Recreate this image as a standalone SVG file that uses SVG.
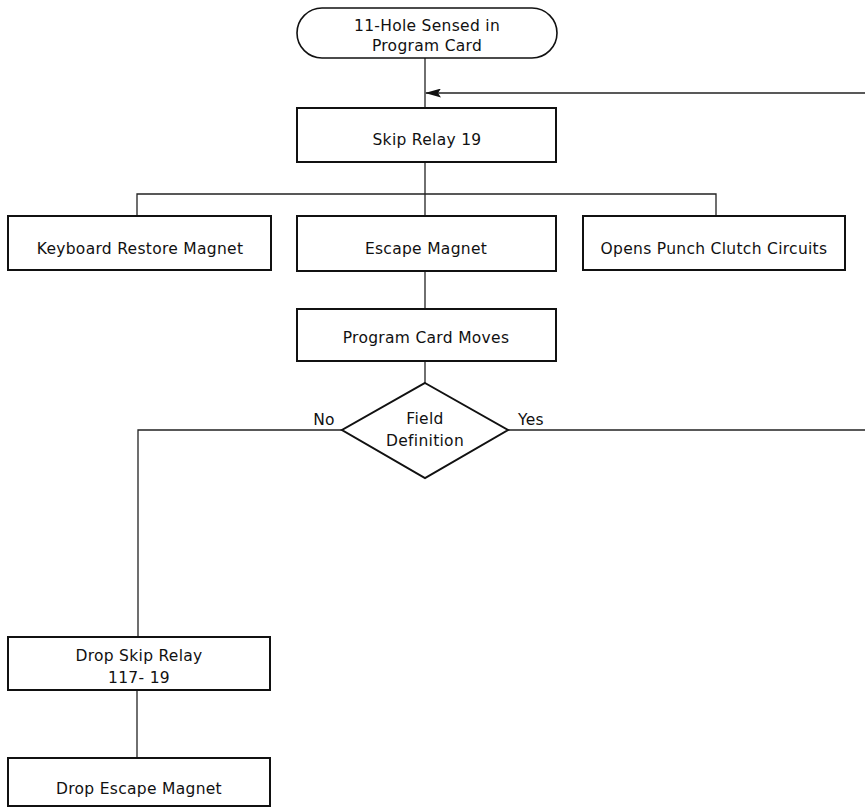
<svg xmlns="http://www.w3.org/2000/svg" width="865" height="810" viewBox="0 0 865 810">
<style>
.box{fill:#fff;stroke:#111;stroke-width:2}
.term{fill:#fff;stroke:#111;stroke-width:1.6}
.ln{fill:none;stroke:#222;stroke-width:1.3}
text{font-family:"DejaVu Sans","Liberation Sans",sans-serif;font-size:15.5px;letter-spacing:0.3px;fill:#111;text-anchor:middle}
</style>
<defs>
<marker id="ah" markerWidth="16" markerHeight="9" refX="15" refY="4.5" orient="auto" markerUnits="userSpaceOnUse">
<path d="M0,0 L16,4.5 L0,9 L3,4.5 Z" fill="#111"/>
</marker>
</defs>
<rect width="865" height="810" fill="#fff"/>
<g id="connectors">
<line class="ln" x1="425" y1="58" x2="425" y2="108"/>
<line class="ln" x1="865" y1="93" x2="426" y2="93" marker-end="url(#ah)"/>
<line class="ln" x1="425" y1="162" x2="425" y2="216"/>
<polyline class="ln" points="137,216 137,194 716,194 716,216"/>
<line class="ln" x1="425" y1="270" x2="425" y2="309"/>
<line class="ln" x1="425" y1="361" x2="425" y2="383"/>
<polyline class="ln" points="342,430 138,430 138,637"/>
<line class="ln" x1="508" y1="430" x2="865" y2="430"/>
<line class="ln" x1="137" y1="690" x2="137" y2="758"/>
</g>
<g id="start">
<rect class="term" x="297" y="8" width="260" height="50" rx="25" ry="25"/>
<text x="427" y="31">11-Hole Sensed in</text>
<text x="427" y="51">Program Card</text>
</g>
<g id="skip-relay">
<rect class="box" x="297" y="108" width="259" height="54"/>
<text x="427" y="145">Skip Relay 19</text>
</g>
<g id="keyboard-restore">
<rect class="box" x="8" y="216" width="263" height="54"/>
<text x="140" y="254">Keyboard Restore Magnet</text>
</g>
<g id="escape-magnet">
<rect class="box" x="297" y="216" width="259" height="55"/>
<text x="426" y="254">Escape Magnet</text>
</g>
<g id="punch-clutch">
<rect class="box" x="583" y="216" width="262" height="54"/>
<text x="714" y="254">Opens Punch Clutch Circuits</text>
</g>
<g id="program-card-moves">
<rect class="box" x="297" y="309" width="259" height="52"/>
<text x="426" y="343">Program Card Moves</text>
</g>
<g id="field-definition">
<polygon class="box" points="425,383 508,430 425,478 342,430"/>
<text x="425" y="424">Field</text>
<text x="425" y="446">Definition</text>
</g>
<text x="324" y="425">No</text>
<text x="531" y="425">Yes</text>
<g id="drop-skip-relay">
<rect class="box" x="8" y="637" width="262" height="53"/>
<text x="139" y="661">Drop Skip Relay</text>
<text x="139" y="683">117- 19</text>
</g>
<g id="drop-escape-magnet">
<rect class="box" x="8" y="758" width="262" height="48"/>
<text x="139" y="794">Drop Escape Magnet</text>
</g>
</svg>
